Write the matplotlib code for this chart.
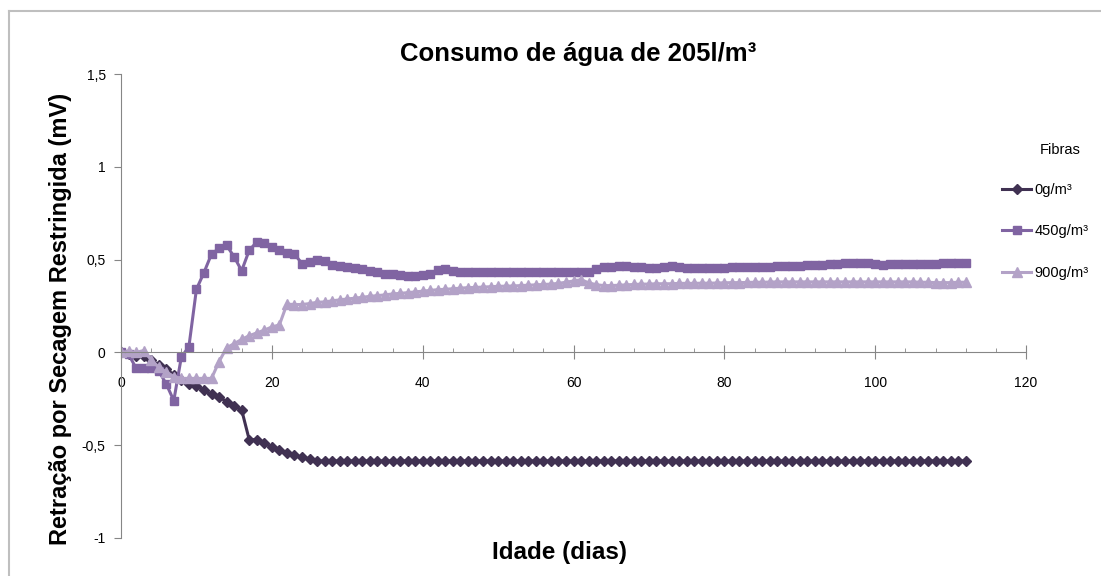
#######################################################################
# Retracao por secagem restringida - consumo de agua 205 l/m3
#######################################################################
import numpy as np

import matplotlib
matplotlib.use('Agg')

import matplotlib.pyplot as plt
from matplotlib.lines import Line2D
from matplotlib.ticker import FixedLocator, FuncFormatter


#######################################################################
# Data (one reading per day)

days = np.arange(0, 113)

fib_0 = [
    0.0, -0.01, -0.02, -0.02, -0.04, -0.07, -0.09, -0.12, -0.15, -0.17,
    -0.18, -0.205, -0.225, -0.24, -0.265, -0.29, -0.31, -0.47, -0.47, -0.49,
    -0.51, -0.525, -0.54, -0.555, -0.565, -0.575, -0.585, -0.585, -0.585, -0.585,
    -0.585, -0.585, -0.585, -0.585, -0.585, -0.585, -0.585, -0.585, -0.585, -0.585,
    -0.585, -0.585, -0.585, -0.585, -0.585, -0.585, -0.585, -0.585, -0.585, -0.585,
    -0.585, -0.585, -0.585, -0.585, -0.585, -0.585, -0.585, -0.585, -0.585, -0.585,
    -0.585, -0.585, -0.585, -0.585, -0.585, -0.585, -0.585, -0.585, -0.585, -0.585,
    -0.585, -0.585, -0.585, -0.585, -0.585, -0.585, -0.585, -0.585, -0.585, -0.585,
    -0.585, -0.585, -0.585, -0.585, -0.585, -0.585, -0.585, -0.585, -0.585, -0.585,
    -0.585, -0.585, -0.585, -0.585, -0.585, -0.585, -0.585, -0.585, -0.585, -0.585,
    -0.585, -0.585, -0.585, -0.585, -0.585, -0.585, -0.585, -0.585, -0.585, -0.585,
    -0.585, -0.585, -0.585,
]

fib_450 = [
    0.0, -0.01, -0.085, -0.085, -0.085, -0.10, -0.17, -0.26, -0.025, 0.03,
    0.34, 0.43, 0.53, 0.56, 0.577, 0.515, 0.44, 0.55, 0.595, 0.587,
    0.568, 0.55, 0.536, 0.529, 0.479, 0.487, 0.50, 0.49, 0.47, 0.465,
    0.46, 0.455, 0.45, 0.44, 0.435, 0.425, 0.42, 0.415, 0.41, 0.41,
    0.415, 0.425, 0.445, 0.45, 0.44, 0.435, 0.435, 0.435, 0.435, 0.435,
    0.435, 0.435, 0.435, 0.435, 0.435, 0.435, 0.432, 0.432, 0.432, 0.432,
    0.432, 0.432, 0.432, 0.45, 0.462, 0.462, 0.464, 0.464, 0.462, 0.462,
    0.455, 0.455, 0.462, 0.464, 0.462, 0.455, 0.455, 0.455, 0.455, 0.455,
    0.455, 0.46, 0.46, 0.46, 0.46, 0.46, 0.462, 0.466, 0.468, 0.468,
    0.468, 0.47, 0.473, 0.473, 0.475, 0.475, 0.48, 0.484, 0.484, 0.484,
    0.475, 0.473, 0.478, 0.478, 0.478, 0.478, 0.478, 0.478, 0.478, 0.48,
    0.484, 0.484, 0.484,
]

fib_900 = [
    0.0, 0.005, 0.0, 0.01, -0.04, -0.08, -0.105, -0.13, -0.14, -0.14,
    -0.14, -0.14, -0.14, -0.05, 0.025, 0.047, 0.07, 0.09, 0.105, 0.12,
    0.137, 0.148, 0.26, 0.258, 0.258, 0.263, 0.27, 0.272, 0.278, 0.283,
    0.288, 0.292, 0.297, 0.302, 0.306, 0.31, 0.315, 0.318, 0.322, 0.326,
    0.33, 0.334, 0.338, 0.34, 0.343, 0.346, 0.349, 0.35, 0.352, 0.354,
    0.356, 0.357, 0.358, 0.36, 0.362, 0.364, 0.366, 0.368, 0.372, 0.378,
    0.385, 0.392, 0.375, 0.365, 0.36, 0.36, 0.362, 0.364, 0.366, 0.368,
    0.368, 0.37, 0.37, 0.37, 0.372, 0.372, 0.372, 0.373, 0.373, 0.374,
    0.375, 0.376, 0.376, 0.377, 0.378, 0.378, 0.379, 0.38, 0.38, 0.38,
    0.38, 0.38, 0.38, 0.38, 0.38, 0.38, 0.38, 0.38, 0.38, 0.38,
    0.38, 0.38, 0.38, 0.38, 0.38, 0.38, 0.378, 0.378, 0.376, 0.376,
    0.376, 0.378, 0.378,
]

series_labels = ["0g/m³", "450g/m³", "900g/m³"]

x_ticks = [0, 20, 40, 60, 80, 100, 120]
y_ticks = [-1, -0.5, 0, 0.5, 1, 1.5]


#######################################################################
def comma( v, pos ):

    s = "{:g}".format(v)
    return s.replace(".", ",")

#######################################################################
def main():

    plt.rcParams['font.family'] = ['Liberation Sans', 'DejaVu Sans']

    fig = plt.figure( figsize=(11.01, 5.76), dpi=100 )
    ax = fig.add_axes( [0.1099, 0.066, 0.8220, 0.8055] )

    grey = "#868686"

    ax.plot( days, fib_0, color="#403152", marker="D", markersize=5.5,
             linewidth=2.2, label=series_labels[0] )
    ax.plot( days, fib_450, color="#8064A2", marker="s", markersize=6,
             linewidth=2.2, label=series_labels[1] )
    ax.plot( days, fib_900, color="#B3A2C7", marker="^", markersize=7,
             linewidth=2.2, label=series_labels[2] )

    ax.set_xlim( 0, 120 )
    ax.set_ylim( -1, 1.5 )

    # axes
    ax.spines['top'].set_visible(False)
    ax.spines['right'].set_visible(False)
    ax.spines['bottom'].set_position(('data', 0))
    ax.spines['bottom'].set_color(grey)
    ax.spines['left'].set_color(grey)

    ax.xaxis.set_major_locator( FixedLocator(x_ticks) )
    ax.xaxis.set_minor_locator( FixedLocator(np.arange(4, 120, 4)) )
    ax.yaxis.set_major_locator( FixedLocator(y_ticks) )
    ax.yaxis.set_major_formatter( FuncFormatter(comma) )

    ax.tick_params( axis="x", which="major", direction="inout", length=10,
                    color=grey, labelsize=10, pad=12 )
    ax.tick_params( axis="x", which="minor", direction="in", length=3,
                    color=grey )
    ax.tick_params( axis="y", which="major", direction="out", length=5,
                    color=grey, labelsize=10, pad=6 )

    # labels
    fig.text( 0.5255, 0.907, "Consumo de água de 205l/m³", ha="center",
              va="center", fontsize=18.5, fontweight="bold" )
    fig.text( 0.508, 0.040, "Idade (dias)", ha="center", va="center",
              fontsize=17.5, fontweight="bold" )
    fig.text( 0.0545, 0.447, "Retração por Secagem Restringida (mV)",
              ha="center", va="center", rotation=90, fontsize=17,
              fontweight="bold" )

    # legend
    fig.text( 1040/1101, 1 - 150/576, "Fibras", ha="left", va="center",
              fontsize=10.5 )
    fig.legend( loc="upper left", bbox_to_anchor=(0.905, 0.693),
                frameon=False, fontsize=10.5, handlelength=2.0,
                handletextpad=0.2, labelspacing=1.9, borderaxespad=0 )

    # outer border
    fig.add_artist( Line2D([9/1101, 9/1101], [0, 1 - 11/576],
                           color="#BFBFBF", linewidth=1.5) )
    fig.add_artist( Line2D([9/1101, 1], [1 - 11/576, 1 - 11/576],
                           color="#BFBFBF", linewidth=1.5) )

    fig.savefig( "out.png", dpi=100 )

#######################################################################
if __name__ == '__main__':

    main()
